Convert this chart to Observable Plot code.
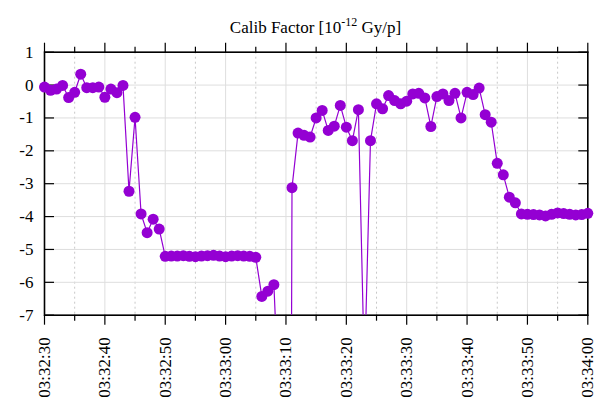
<!DOCTYPE html>
<html>
<head>
<meta charset="utf-8">
<script src="https://cdn.jsdelivr.net/npm/d3@7"></script>
<script src="https://cdn.jsdelivr.net/npm/@observablehq/plot@0.6"></script>
<style>
  html, body { margin: 0; padding: 0; background: white; }
  #title {
    width: 599px; height: 40px; box-sizing: border-box;
    padding: 19px 12px 0 44px;
    font: 17px "Liberation Serif", serif; line-height: 17px;
    text-align: center; color: black; white-space: nowrap;
  }
  #title sup { font-size: 12px; line-height: 0; vertical-align: 0; position: relative; top: -7px; }
</style>
</head>
<body>
<div id="title">Calib Factor [10<sup>-12</sup> Gy/p]</div>
<div id="chart"></div>
<script>
// Sampling start and per-second samples (1 Hz)
const startTime = "03:32:30";
const endTime = "03:34:00";
const values = [
  -0.06, -0.16, -0.12, -0.01, -0.38, -0.22, 0.33, -0.08, -0.08, -0.06,
  -0.37, -0.12, -0.23, -0.01, -3.23, -0.98, -3.92, -4.49, -4.08, -4.38,
  -5.21, -5.20, -5.20, -5.19, -5.21, -5.22, -5.20, -5.19, -5.18, -5.20,
  -5.22, -5.20, -5.19, -5.20, -5.21, -5.24, -6.43, -6.27, -6.07, -10.4,
  -60.0, -3.12, -1.46, -1.53, -1.58, -1.00, -0.77, -1.38, -1.25, -0.62,
  -1.28, -1.69, -0.75, -8.8, -1.69, -0.57, -0.72, -0.32, -0.47, -0.57,
  -0.49, -0.27, -0.25, -0.39, -1.26, -0.35, -0.27, -0.47, -0.25, -1.00,
  -0.22, -0.29, -0.09, -0.90, -1.13, -2.38, -2.73, -3.41, -3.58, -3.92,
  -3.93, -3.94, -3.95, -3.98, -3.93, -3.89, -3.91, -3.93, -3.95, -3.94,
  -3.90
];
const yTicks = [-7, -6, -5, -4, -3, -2, -1, 0, 1];
const majorTickLabels = ["03:32:30","03:32:40","03:32:50","03:33:00","03:33:10","03:33:20","03:33:30","03:33:40","03:33:50","03:34:00"];
const minorTickLabels = ["03:32:35","03:32:45","03:32:55","03:33:05","03:33:15","03:33:25","03:33:35","03:33:45","03:33:55"];

const toDate = s => { const [h, m, sec] = s.split(":").map(Number); return new Date(Date.UTC(2020, 0, 1, h, m, sec)); };
const t0 = toDate(startTime);
const data = values.map((v, i) => ({ time: new Date(+t0 + i * 1000), value: v }));
const majorTicks = majorTickLabels.map(toDate);
const minorTicks = minorTickLabels.map(toDate);
const fmt = d3.utcFormat("%H:%M:%S");
const color = "#9400d3";
const none = () => "";

const chart = Plot.plot({
  width: 599,
  height: 364,
  marginTop: 11.7,
  marginBottom: 89.3,
  marginLeft: 44,
  marginRight: 11.7,
  style: { fontFamily: "'Liberation Serif', serif", fontSize: "17px", background: "white", color: "black" },
  x: { type: "utc", domain: [t0, toDate(endTime)] },
  y: { domain: [-7, 1] },
  marks: [
    Plot.gridX({ ticks: minorTicks, stroke: "#c8c8c8", strokeOpacity: 1, strokeDasharray: "2,3" }),
    Plot.gridX({ ticks: majorTicks, stroke: "#dedede", strokeOpacity: 1 }),
    Plot.gridY({ ticks: yTicks, stroke: "#dedede", strokeOpacity: 1 }),
    Plot.axisY({ ticks: yTicks, tickSize: 0, tickPadding: 11, tickFormat: d => String(d), label: null, fontSize: 17 }),
    Plot.axisY({ ticks: yTicks, anchor: "left", tickSize: -10, tickFormat: none, label: null, strokeWidth: 1.2 }),
    Plot.axisY({ ticks: yTicks, anchor: "right", tickSize: -10, tickFormat: none, label: null, strokeWidth: 1.2 }),
    Plot.axisX({ ticks: majorTicks, anchor: "bottom", tickSize: 10, tickPadding: 12, tickRotate: -90, tickFormat: fmt, label: null, fontSize: 17, strokeWidth: 1.2 }),
    Plot.axisX({ ticks: minorTicks, anchor: "bottom", tickSize: 6, tickFormat: none, label: null, strokeWidth: 1.2 }),
    Plot.axisX({ ticks: majorTicks, anchor: "top", tickSize: 10, tickFormat: none, label: null, strokeWidth: 1.2 }),
    Plot.axisX({ ticks: minorTicks, anchor: "top", tickSize: 6, tickFormat: none, label: null, strokeWidth: 1.2 }),
    Plot.frame({ stroke: "black", strokeWidth: 1.6 }),
    Plot.line(data, { x: "time", y: "value", stroke: color, strokeWidth: 1.2, clip: true }),
    Plot.dot(data, { x: "time", y: "value", r: 5.5, fill: color, filter: d => d.value >= -7 })
  ]
});
document.getElementById("chart").append(chart);
</script>
</body>
</html>
